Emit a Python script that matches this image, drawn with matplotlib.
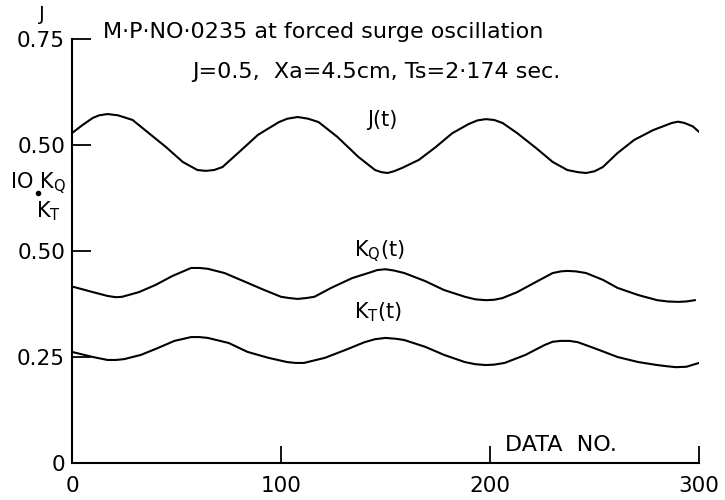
import numpy as np
import matplotlib
import matplotlib.pyplot as plt

matplotlib.use('agg')
plt.rcParams['font.family'] = ['DejaVu Sans']

# data (x = data no.)
j_x = [0, 5, 10, 13, 17, 22, 29, 36, 45, 53, 60, 64, 68, 72, 81, 89, 99, 103, 108, 113,
       118, 127, 137, 145, 148, 151, 154, 158, 166, 174, 182, 190, 194, 198, 202, 206,
       213, 222, 230, 237, 242, 246, 250, 254, 261, 269, 278, 287, 290, 293, 297, 300]
j_val = [0.528, 0.547, 0.564, 0.570, 0.573, 0.570, 0.559, 0.531, 0.495, 0.460, 0.441, 0.439,
         0.441, 0.448, 0.488, 0.524, 0.554, 0.562, 0.566, 0.562, 0.554, 0.519, 0.472, 0.441,
         0.436, 0.434, 0.438, 0.446, 0.465, 0.495, 0.528, 0.550, 0.558, 0.561, 0.559, 0.552,
         0.528, 0.493, 0.460, 0.441, 0.436, 0.434, 0.438, 0.448, 0.481, 0.512, 0.535, 0.552,
         0.555, 0.552, 0.544, 0.531]

kq_x = [1, 10, 17, 21, 24, 32, 40, 48, 57, 61, 65, 73, 83, 92, 100, 104, 108, 112, 116, 124,
        134, 143, 146, 150, 154, 159, 169, 178, 188, 193, 198, 202, 206, 213, 222, 230, 234,
        237, 241, 246, 254, 261, 271, 280, 285, 290, 294, 298]
kq_val = [0.415, 0.403, 0.394, 0.391, 0.392, 0.403, 0.420, 0.441, 0.460, 0.460, 0.458, 0.448,
          0.427, 0.408, 0.392, 0.389, 0.387, 0.389, 0.392, 0.413, 0.436, 0.450, 0.455, 0.457,
          0.454, 0.448, 0.429, 0.408, 0.392, 0.386, 0.384, 0.385, 0.389, 0.403, 0.427, 0.448,
          0.452, 0.453, 0.452, 0.448, 0.432, 0.413, 0.396, 0.384, 0.381, 0.380, 0.381, 0.384]

kt_x = [0, 10, 17, 21, 25, 33, 41, 49, 57, 61, 65, 75, 84, 94, 103, 107, 111, 121, 131, 140,
        145, 150, 155, 159, 169, 178, 188, 193, 198, 202, 207, 217, 226, 230, 234, 238, 242,
        252, 261, 271, 280, 285, 289, 294, 300]
kt_val = [0.262, 0.250, 0.243, 0.243, 0.245, 0.255, 0.271, 0.288, 0.297, 0.297, 0.295, 0.283,
          0.262, 0.248, 0.238, 0.236, 0.236, 0.248, 0.267, 0.285, 0.292, 0.295, 0.293, 0.290,
          0.274, 0.255, 0.238, 0.233, 0.231, 0.232, 0.236, 0.255, 0.278, 0.286, 0.288, 0.288,
          0.285, 0.267, 0.250, 0.238, 0.231, 0.228, 0.226, 0.227, 0.236]

j_offset = 0.25   # J is drawn on the upper scale (0.50 -> 0.75 position)

ytick_pos = [0, 0.25, 0.5, 0.75, 1.0]
ytick_labels = ['0', '0.25', '0.50', '0.50', '0.75']
xtick_pos = [0, 100, 200, 300]
xtick_labels = ['0', '100', '200', '300']

fig = plt.figure(figsize=(7.25, 5), dpi=100)
ax = fig.add_axes([72/725, 37/500, 627/725, 424/500])

ax.plot(j_x, np.array(j_val) + j_offset, c='k', lw=1.5)
ax.plot(kq_x, kq_val, c='k', lw=1.5)
ax.plot(kt_x, kt_val, c='k', lw=1.5)

ax.set_xlim(0, 300)
ax.set_ylim(0, 1.0)
ax.spines['top'].set_visible(False)
ax.spines['right'].set_visible(False)
for s in ['left', 'bottom']:
    ax.spines[s].set_linewidth(1.5)
    ax.spines[s].set_color('k')

ax.set_yticks(ytick_pos)
ax.set_yticklabels(ytick_labels, fontsize=15.5)
ax.set_xticks(xtick_pos)
ax.set_xticklabels(xtick_labels, fontsize=15.5)
ax.tick_params(axis='y', direction='in', length=14, width=1.3, pad=5)
ax.tick_params(axis='x', direction='in', length=12, width=1.3, pad=9)

# texts
fig.text(42/725, 1 - 14/500, 'J', fontsize=14, ha='center', va='center')
fig.text(103/725, 1 - 32/500, 'M·P·NO·0235 at forced surge oscillation',
         fontsize=16, ha='left', va='center')
fig.text(192/725, 1 - 72/500, 'J=0.5,  Xa=4.5cm, Ts=2·174 sec.',
         fontsize=16, ha='left', va='center')
fig.text(10/725, 1 - 183/500, r'IO K$_\mathregular{Q}$', fontsize=15, ha='left', va='center')
fig.add_artist(plt.Line2D([38/725], [1 - 193/500], marker='o', ms=3, c='k',
                          transform=fig.transFigure))
fig.text(36/725, 1 - 211/500, r'K$_\mathregular{T}$', fontsize=15, ha='left', va='center')

ax.text(141, 0.81, 'J(t)', fontsize=15, ha='left', va='center')
ax.text(135, 0.50, r'K$_\mathregular{Q}$(t)', fontsize=15, ha='left', va='center')
ax.text(135, 0.355, r'K$_\mathregular{T}$(t)', fontsize=15, ha='left', va='center')
ax.text(207, 0.02, 'DATA  NO.', fontsize=16, ha='left', va='bottom')

plt.savefig('out.png', dpi=100)
plt.close()
